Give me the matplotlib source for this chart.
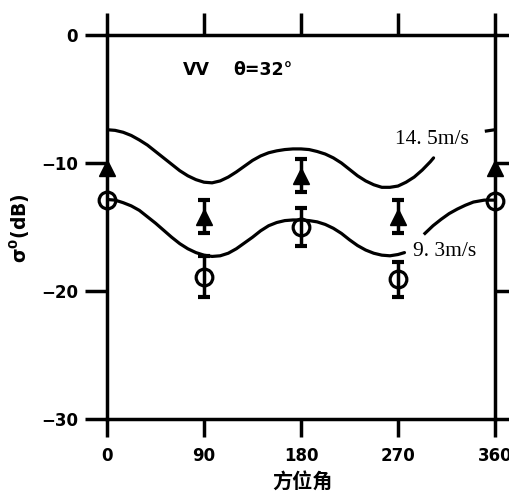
import matplotlib
matplotlib.use("Agg")
import matplotlib.pyplot as plt

# ---- data ----
# model curve, 14.5 m/s (azimuth deg, sigma0 dB)
az_hi_a = [0, 7.5, 15, 22.5, 30, 37.5, 45, 52.5, 60, 67.5, 75, 82.5, 90, 97.5, 105, 112.5,
           120, 127.5, 135, 142.5, 150, 157.5, 165, 172.5, 180, 187.5, 195, 202.5, 210,
           217.5, 225, 232.5, 240, 247.5, 255, 262.5, 270, 277.5, 285, 292.5, 300, 303]
sig_hi_a = [-7.4, -7.45, -7.6, -7.85, -8.2, -8.6, -9.1, -9.6, -10.1, -10.6, -11.0, -11.3,
            -11.5, -11.55, -11.4, -11.1, -10.7, -10.25, -9.8, -9.45, -9.2, -9.05, -8.95,
            -8.9, -8.9, -8.95, -9.1, -9.3, -9.6, -10.0, -10.5, -11.0, -11.4, -11.7, -11.9,
            -11.9, -11.8, -11.5, -11.1, -10.55, -9.9, -9.6]
az_hi_b = [352, 356, 360]
sig_hi_b = [-7.5, -7.45, -7.4]

# model curve, 9.3 m/s
az_lo_a = [0, 7.5, 15, 22.5, 30, 37.5, 45, 52.5, 60, 67.5, 75, 82.5, 90, 97.5, 105, 112.5,
           120, 127.5, 135, 142.5, 150, 157.5, 165, 172.5, 180, 187.5, 195, 202.5, 210,
           217.5, 225, 232.5, 240, 247.5, 255, 262.5, 270, 276]
sig_lo_a = [-12.85, -12.9, -13.1, -13.35, -13.7, -14.2, -14.7, -15.25, -15.8, -16.3, -16.7,
            -17.0, -17.2, -17.3, -17.25, -17.05, -16.7, -16.25, -15.8, -15.3, -14.9, -14.65,
            -14.5, -14.45, -14.45, -14.5, -14.6, -14.8, -15.1, -15.5, -16.0, -16.45, -16.8,
            -17.05, -17.2, -17.25, -17.15, -17.0]
az_lo_b = [295, 302.5, 310, 317.5, 325, 332.5, 340, 350, 360]
sig_lo_b = [-15.5, -14.9, -14.4, -13.95, -13.6, -13.3, -13.05, -12.9, -12.9]

# measurements
az_pts = [0, 90, 180, 270, 360]
tri_val = [-10.4, -14.2, -11.0, -14.2, -10.4]
tri_err = [0, 1.3, 1.3, 1.3, 0]
cir_val = [-12.9, -18.9, -15.0, -19.1, -13.0]
cir_err = [0, 1.6, 1.5, 1.4, 0]

xticks = [0, 90, 180, 270, 360]
xticklabels = ["0", "90", "180", "270", "360"]
yticks = [0, -10, -20, -30]
yticklabels = ["0", "\u221210", "\u221220", "\u221230"]

# ---- figure ----
W, H = 509, 497
fig = plt.figure(figsize=(W / 100, H / 100), dpi=100)
ax = fig.add_axes([107 / W, 1 - 419 / H, 388 / W, 384 / H])

lw = 2.3
ax.plot(az_hi_a, sig_hi_a, color="black", lw=lw, solid_capstyle="round")
ax.plot(az_hi_b, sig_hi_b, color="black", lw=lw, clip_on=False)
ax.plot(az_lo_a, sig_lo_a, color="black", lw=lw, solid_capstyle="round")
ax.plot(az_lo_b, sig_lo_b, color="black", lw=lw, clip_on=False)

az_e = [a for a, e in zip(az_pts, tri_err) if e > 0]
tv_e = [v for v, e in zip(tri_val, tri_err) if e > 0]
te_e = [e for e in tri_err if e > 0]
cv_e = [v for v, e in zip(cir_val, cir_err) if e > 0]
ce_e = [e for e in cir_err if e > 0]

ax.errorbar(az_e, tv_e, yerr=te_e, fmt="none", ecolor="black", elinewidth=2.5,
            capsize=4, capthick=3)
ax.errorbar(az_e, cv_e, yerr=ce_e, fmt="none", ecolor="black", elinewidth=2.5,
            capsize=4, capthick=3)
ax.plot(az_pts, tri_val, linestyle="none", marker="^", ms=11, mfc="black",
        mec="black", clip_on=False, zorder=5)
ax.plot(az_pts, cir_val, linestyle="none", marker="o", ms=12, mfc="none",
        mec="black", mew=2.3, clip_on=False, zorder=5)

ax.set_xlim(0, 360)
ax.set_ylim(-30, 0)

for s in ax.spines.values():
    s.set_linewidth(2.5)

ax.set_xticks(xticks)
ax.set_xticklabels(xticklabels)
ax.set_yticks(yticks)
ax.set_yticklabels(yticklabels)
ax.tick_params(axis="x", which="both", direction="out", top=True, bottom=True,
               length=13, width=2.5, pad=7)
ax.tick_params(axis="x", which="both", top=True, labeltop=False)
ax.tick_params(axis="y", which="both", direction="out", left=True, right=True,
               length=16, width=2.5, pad=5, labelright=False)
for lab in ax.get_xticklabels() + ax.get_yticklabels():
    lab.set_fontfamily("DejaVu Sans")
    lab.set_fontweight("bold")
    lab.set_fontsize(12)

# longer top ticks
for t in ax.xaxis.get_major_ticks():
    t.tick2line.set_markersize(16)

ax.text(70.5, -2.75, "VV", fontsize=12.5, fontweight="bold", family="DejaVu Sans",
        va="center", ha="left")
ax.text(117, -2.75, "\u03b8=32\u00b0", fontsize=12.5, fontweight="bold", family="DejaVu Sans",
        va="center", ha="left")
ax.text(267, -8.2, "14. 5m/s", fontsize=15.5, family="Liberation Serif",
        va="center", ha="left")
ax.text(284, -16.95, "9. 3m/s", fontsize=15.5, family="Liberation Serif",
        va="center", ha="left")

fig.text(20 / W, 1 - 228 / H, r"$\mathbf{\sigma^0}$(dB)", rotation=90, fontsize=13.5,
         fontweight="bold", family="DejaVu Sans", ha="center", va="center")
fig.text(302 / W, 1 - 481 / H, "方位角", fontsize=14.5, fontweight="bold",
         family=["Noto Sans CJK SC", "DejaVu Sans"], ha="center", va="center")

fig.savefig("out.png", dpi=100)
